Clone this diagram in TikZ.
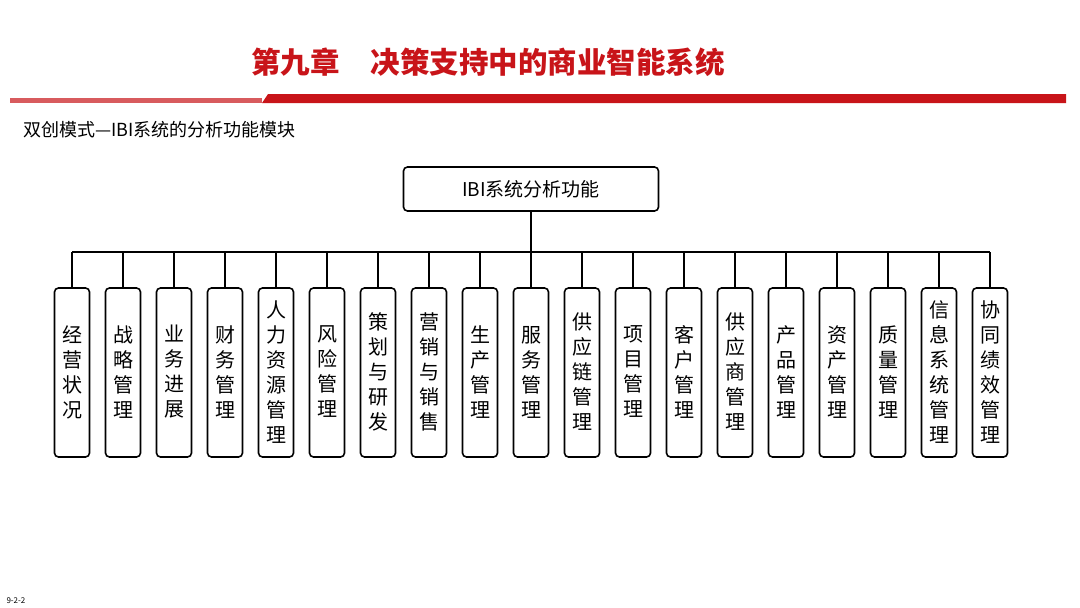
\documentclass[tikz,border=0pt]{standalone}
\usepackage{fontspec}
\setmainfont{Noto Sans CJK SC}
\definecolor{tred}{RGB}{200,20,25}
\begin{document}
\begin{tikzpicture}[x=1pt,y=-1pt,
 leaf/.style={draw,line width=1.6pt,rounded corners=4pt,minimum width=35pt,minimum height=169pt,inner sep=0pt},
 leaftxt/.style={font=\fontsize{20}{25}\selectfont,align=center,inner sep=0pt},
 conn/.style={line width=1.1pt}]
\useasboundingbox (0,0) rectangle (1080,608);
\node[font=\fontsize{29.5}{31}\selectfont\bfseries,text=tred] (title) at (488,62) {第九章\hspace{31pt}决策支持中的商业智能系统};
\fill[tred!70] (10,98) rectangle (262,103);
\fill[tred] (262,103) -- (268,94) -- (1066,94) -- (1066,103) -- cycle;
\node[anchor=west,font=\fontsize{18}{20}\selectfont] (sub) at (20,130) {双创模式—IBI系统的分析功能模块};
\node[anchor=west,font=\fontsize{8}{9}\selectfont] (pg) at (3,601) {9-2-2};
\node[draw,line width=1.6pt,rounded corners=4pt,minimum width=255pt,minimum height=44pt,font=\fontsize{19}{22}\selectfont] (root) at (531,189) {IBI系统分析功能};
\coordinate (bus) at (531,252);
\draw[conn] (root.south) -- (bus);
\foreach \t [count=\i] in {经\\营\\状\\况,战\\略\\管\\理,业\\务\\进\\展,财\\务\\管\\理,人\\力\\资\\源\\管\\理,风\\险\\管\\理,策\\划\\与\\研\\发,营\\销\\与\\销\\售,生\\产\\管\\理,服\\务\\管\\理,供\\应\\链\\管\\理,项\\目\\管\\理,客\\户\\管\\理,供\\应\\商\\管\\理,产\\品\\管\\理,资\\产\\管\\理,质\\量\\管\\理,信\\息\\系\\统\\管\\理,协\\同\\绩\\效\\管\\理}{
  \pgfmathsetmacro\xx{72+(\i-1)*51}
  \node[leaf] (b\i) at (\xx,372.5) {};
  \node[leaftxt] (t\i) at (\xx,372) {\t};
  \coordinate (k\i) at (\xx,252);
  \draw[conn] (k\i) -- (b\i.north);
}
\draw[conn] (k1) -- (k19);
\end{tikzpicture}
\end{document}
